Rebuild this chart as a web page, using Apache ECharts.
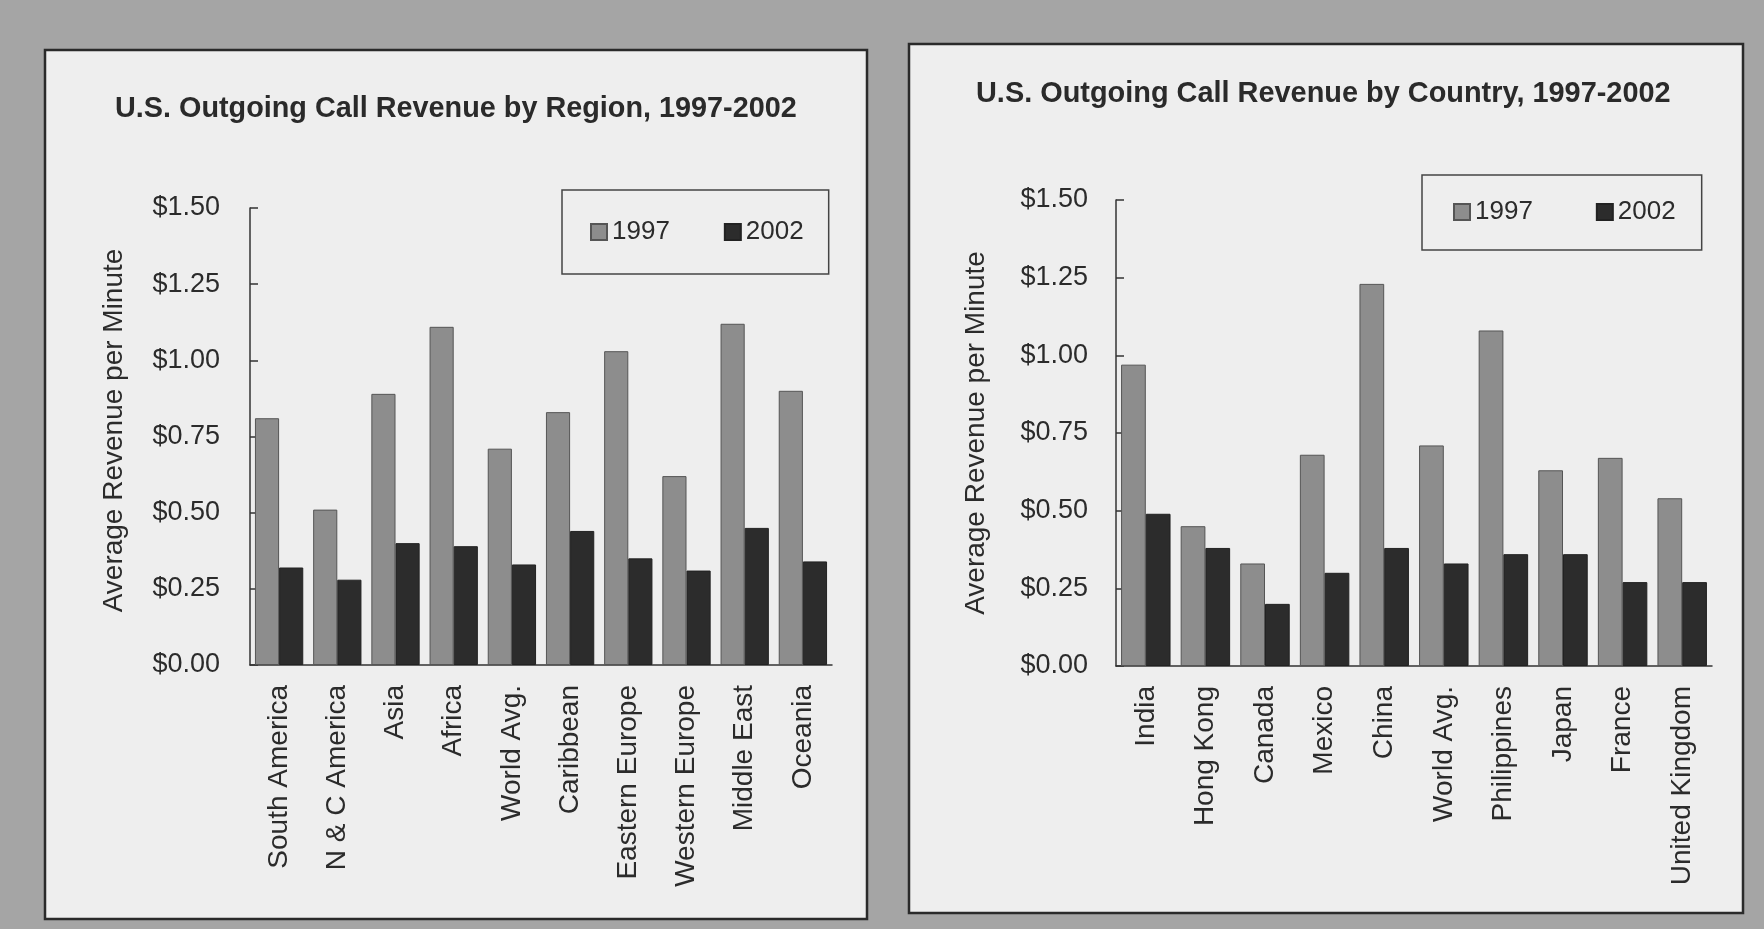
<!DOCTYPE html>
<html>
<head>
<meta charset="utf-8">
<script src="https://cdn.jsdelivr.net/npm/echarts/dist/echarts.min.js"></script>
<style>
html,body{margin:0;padding:0;background:#a5a5a5;}
#c{width:1764px;height:929px;}
</style>
</head>
<body>
<div id="c"></div>
<script>
// ---- data ----
const regionCategories = ['South America','N & C America','Asia','Africa','World Avg.','Caribbean','Eastern Europe','Western Europe','Middle East','Oceania'];
const region1997 = [0.81, 0.51, 0.89, 1.11, 0.71, 0.83, 1.03, 0.62, 1.12, 0.90];
const region2002 = [0.32, 0.28, 0.40, 0.39, 0.33, 0.44, 0.35, 0.31, 0.45, 0.34];

const countryCategories = ['India','Hong Kong','Canada','Mexico','China','World Avg.','Philippines','Japan','France','United Kingdom'];
const country1997 = [0.97, 0.45, 0.33, 0.68, 1.23, 0.71, 1.08, 0.63, 0.67, 0.54];
const country2002 = [0.49, 0.38, 0.20, 0.30, 0.38, 0.33, 0.36, 0.36, 0.27, 0.27];

const yTicks = {min: 0, max: 1.5, interval: 0.25};
const seriesNames = ['1997', '2002'];
const titles = ['U.S. Outgoing Call Revenue by Region, 1997-2002', 'U.S. Outgoing Call Revenue by Country, 1997-2002'];
const yAxisName = 'Average Revenue per Minute';

// ---- styles ----
const FONT = 'Liberation Sans, Arial, sans-serif';
const TXT = '#2b2b2b';
const C97 = '#8d8d8d';
const C02 = '#2c2c2c';

const chart = echarts.init(document.getElementById('c'), null, {renderer: 'canvas'});

function yAxis(gridIndex, margin, nameGap, namePad) {
  return {
    type: 'value', gridIndex: gridIndex,
    min: yTicks.min, max: yTicks.max, interval: yTicks.interval,
    name: yAxisName, nameLocation: 'middle', nameGap: nameGap,
    nameTextStyle: {fontFamily: FONT, fontSize: 28, color: TXT, padding: namePad},
    axisLine: {show: true, lineStyle: {color: '#333', width: 1.5}},
    axisTick: {show: true, inside: true, length: 8, lineStyle: {color: '#333', width: 1.5}},
    splitLine: {show: false},
    axisLabel: {fontFamily: FONT, fontSize: 27, color: TXT, margin: margin,
      formatter: v => '$' + v.toFixed(2)}
  };
}
function xAxis(gridIndex, cats) {
  return {
    type: 'category', gridIndex: gridIndex, data: cats,
    axisLine: {show: true, lineStyle: {color: '#333', width: 1.5}},
    axisTick: {show: false},
    axisLabel: {fontFamily: FONT, fontSize: 28, color: TXT, rotate: 90, margin: 20, interval: 0}
  };
}
function bars(name, data, idx, color) {
  return {
    type: 'bar', name: name, data: data, xAxisIndex: idx, yAxisIndex: idx,
    barGap: '0%', barCategoryGap: '17%',
    itemStyle: {color: color, borderColor: name === '1997' ? '#555' : '#222', borderWidth: 1},
    emphasis: {disabled: true}
  };
}
function legend(left, top, itemGap, padding) {
  return {
    left: left, top: top, itemGap: itemGap, padding: padding,
    itemWidth: 16, itemHeight: 16, icon: 'rect',
    borderColor: '#444', borderWidth: 1.5, backgroundColor: '#eeeeee',
    textStyle: {fontFamily: FONT, fontSize: 26, color: TXT},
    data: seriesNames
  };
}

const option = {
  backgroundColor: '#a5a5a5',
  animation: false,
  graphic: [
    {type: 'rect', z: -10, shape: {x: 45, y: 50, width: 822, height: 869},
      style: {fill: '#eeeeee', stroke: '#2a2a2a', lineWidth: 2.5}},
    {type: 'rect', z: -10, shape: {x: 909, y: 44, width: 834, height: 869},
      style: {fill: '#eeeeee', stroke: '#2a2a2a', lineWidth: 2.5}}
  ],
  title: [
    {text: titles[0], left: 110, top: 90,
      textStyle: {fontFamily: FONT, fontWeight: 'bold', fontSize: 28.8, color: '#2a2a2a'}},
    {text: titles[1], left: 971, top: 75,
      textStyle: {fontFamily: FONT, fontWeight: 'bold', fontSize: 28.9, color: '#2a2a2a'}}
  ],
  legend: [
    legend(562, 190, 54, [29, 25, 29, 28]),
    legend(1422, 175, 63, [24, 26, 25, 31])
  ],
  grid: [
    {left: 250, top: 208, width: 582, height: 457},
    {left: 1116, top: 200, width: 596, height: 466}
  ],
  xAxis: [xAxis(0, regionCategories), xAxis(1, countryCategories)],
  yAxis: [yAxis(0, 30, 122, [0, 0, 0, 12]), yAxis(1, 28, 126, [0, 0, 0, 0])],
  series: [
    bars(seriesNames[0], region1997, 0, C97),
    bars(seriesNames[1], region2002, 0, C02),
    bars(seriesNames[0], country1997, 1, C97),
    bars(seriesNames[1], country2002, 1, C02)
  ]
};
chart.setOption(option);
</script>
</body>
</html>
